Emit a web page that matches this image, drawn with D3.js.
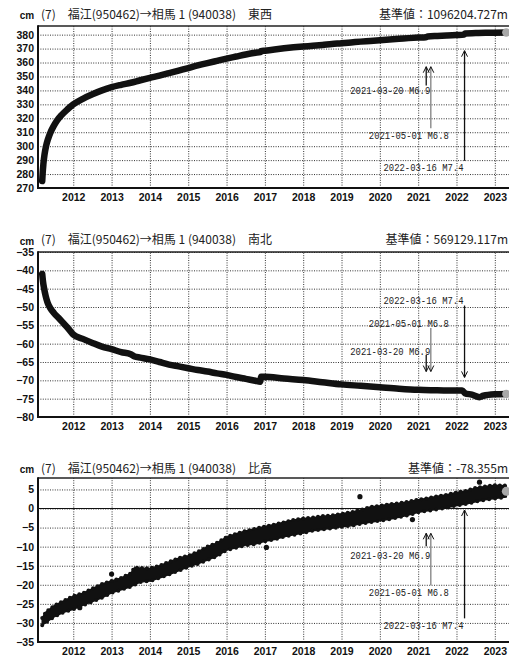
<!DOCTYPE html>
<html><head><meta charset="utf-8">
<script src="https://cdn.jsdelivr.net/npm/d3@7/dist/d3.min.js"></script>
<style>
html,body{margin:0;padding:0;background:#fff;}
svg{display:block;}
</style></head>
<body>
<script>
// ---------- data (decimal years / cm) ----------
const yearTicks = [2012,2013,2014,2015,2016,2017,2018,2019,2020,2021,2022,2023];

const ewYears = [2011.19,2011.20,2011.22,2011.25,2011.29,2011.34,2011.40,2011.48,2011.58,2011.70,2011.85,2012.00,2012.25,2012.50,2012.75,2013.00,2013.25,2013.50,2013.75,2014.00,2014.25,2014.50,2014.75,2015.00,2015.25,2015.50,2015.75,2016.00,2016.25,2016.50,2016.75,2016.88,2016.90,2017.00,2017.25,2017.50,2017.75,2018.00,2018.25,2018.50,2018.75,2019.00,2019.25,2019.50,2019.75,2020.00,2020.25,2020.50,2020.75,2021.00,2021.20,2021.25,2021.50,2021.75,2022.00,2022.20,2022.22,2022.50,2022.75,2023.00,2023.30];
const ewValues = [275,280,287,294,300,305,309.5,314,318.5,322.5,326.5,330,334,337.2,340,342.3,344,345.5,347.3,349,350.6,352.4,354.2,356,357.9,359.6,361.2,362.8,364.3,365.8,367,367.5,368.1,368.5,369.4,370.2,370.9,371.5,372.0,372.6,373.3,373.8,374.4,375.0,375.5,376.0,376.5,377.0,377.5,377.9,378.2,378.7,379.1,379.4,379.7,380.0,380.9,381.1,381.3,381.4,381.5];
const ewTicks = [270,280,290,300,310,320,330,340,350,360,370,380];

const nsYears = [2011.19,2011.21,2011.24,2011.28,2011.33,2011.40,2011.50,2011.62,2011.75,2011.88,2012.00,2012.25,2012.50,2012.75,2013.00,2013.25,2013.50,2013.60,2013.75,2014.00,2014.25,2014.50,2014.75,2015.00,2015.25,2015.50,2015.75,2016.00,2016.25,2016.50,2016.75,2016.88,2016.90,2017.00,2017.50,2018.00,2018.50,2019.00,2019.50,2020.00,2020.50,2021.00,2021.50,2022.00,2022.15,2022.22,2022.40,2022.60,2022.70,2023.00,2023.30];
const nsValues = [-41,-43,-45,-47,-48.8,-50.3,-51.7,-53,-54.5,-56,-57.5,-58.7,-59.8,-60.8,-61.5,-62.3,-62.9,-63.5,-63.8,-64.3,-65.0,-65.7,-66.2,-66.7,-67.2,-67.6,-68.1,-68.5,-69.1,-69.6,-70.1,-70.4,-69.0,-69.0,-69.5,-69.9,-70.5,-71.1,-71.5,-71.9,-72.3,-72.6,-72.7,-72.8,-72.8,-73.5,-73.9,-74.6,-74.2,-73.8,-73.7];
const nsTicks = [-80,-75,-70,-65,-60,-55,-50,-45,-40,-35];

const udYears = [2011.19,2011.30,2011.50,2011.75,2012.00,2012.25,2012.50,2012.75,2013.00,2013.25,2013.50,2013.60,2013.75,2014.00,2014.25,2014.50,2014.75,2015.00,2015.25,2015.50,2015.75,2016.00,2016.25,2016.50,2016.75,2017.00,2017.25,2017.50,2017.75,2018.00,2018.25,2018.50,2018.75,2019.00,2019.25,2019.50,2019.75,2020.00,2020.25,2020.50,2020.75,2021.00,2021.25,2021.50,2021.75,2022.00,2022.25,2022.50,2022.75,2023.00,2023.30];
const udLow  = [-30.6,-29.8,-28.4,-27.2,-26.4,-25.4,-24.4,-23.4,-22.1,-21.3,-20.5,-20.0,-19.3,-19.0,-18.2,-17.3,-16.3,-15.3,-14.5,-13.5,-12.5,-10.9,-10.3,-9.6,-9.3,-8.6,-8.1,-7.4,-6.9,-6.4,-5.8,-5.5,-5.2,-4.8,-4.5,-4.0,-3.6,-3.2,-2.8,-2.3,-1.7,-1.0,-0.6,-0.2,0.2,0.8,1.2,1.8,2.3,2.6,3.0];
const udHigh = [-28.7,-27.0,-25.5,-24.2,-23.0,-22.2,-21.0,-19.8,-19.0,-18.2,-17.0,-15.5,-15.6,-15.7,-15.0,-14.0,-13.0,-12.4,-11.4,-10.0,-9.0,-7.5,-6.6,-5.9,-5.3,-4.7,-4.2,-3.6,-3.0,-2.6,-2.4,-2.0,-1.8,-1.4,-1.0,-0.4,0.4,0.7,1.1,1.4,1.8,2.3,2.7,3.2,3.6,4.2,4.6,5.4,5.8,6.1,6.0];
const udOutYears  = [2012.17,2013.00,2017.04,2019.48,2020.85,2022.60];
const udOutValues = [-26.0,-17.2,-10.2,3.1,-2.9,6.9];
const udTicks = [-35,-30,-25,-20,-15,-10,-5,0,5];

const quakeDates  = [2021.21,2021.33,2022.21];
const quakeLabels = ["2021-03-20 M6.9","2021-05-01 M6.8","2022-03-16 M7.4"];
// arrow tip / tail / label values per panel (cm)
const ewArrowTip  = [357,357,368.5], ewArrowTail = [343.5,312.8,289.5], ewLabelAt = [340.5,308.3,285.3];
const nsArrowTip  = [-67.6,-67.6,-69.2], nsArrowTail = [-63.1,-55.7,-49.6], nsLabelAt = [-61.9,-54.2,-48.1];
const udArrowTip  = [-6.5,-6.5,-0.4], udArrowTail = [-9.9,-20.1,-28.8], udLabelAt = [-12.2,-21.8,-30.5];

const titles = ["東西","南北","比高"];
const baseValues = ["1096204.727m","569129.117m","-78.355m"];

// ---------- drawing ----------
const W = 509, H = 658;
const L = 38, R = 509;
const svg = d3.select("body").append("svg").attr("width", W).attr("height", H);
const x = d3.scaleLinear().domain([2011.08, 2023.37]).range([L, R]);
const tickFont = "'Liberation Sans Narrow','Arial Narrow','Liberation Sans',sans-serif";
const jpFont = "'Noto Sans CJK JP','Noto Sans',sans-serif";
const labelDx = [4, 18, -1];
const tickFmt = d => (d < 0 ? "\u2212" + Math.abs(d) : String(d));

function panel(p, i) {
  const y = d3.scaleLinear().domain(p.domain).range([p.bottom, p.top]);
  const g = svg.append("g");
  const clipId = "clip" + i;
  svg.append("clipPath").attr("id", clipId).append("rect")
    .attr("x", L).attr("y", p.top).attr("width", R - L).attr("height", p.bottom - p.top);

  // horizontal grid + y labels
  const ya = g.append("g").attr("transform", `translate(${L},0)`)
    .call(d3.axisLeft(y).tickValues(p.ticks).tickSize(-(R - L)).tickPadding(4).tickFormat(tickFmt));
  ya.select(".domain").remove();
  ya.selectAll(".tick line").attr("stroke", "#333").attr("stroke-dasharray", "1,1.4");
  ya.selectAll(".tick text").attr("font-family", tickFont).attr("font-weight", "bold")
    .attr("font-size", 10.5).attr("fill", "#111");

  // vertical grid + x labels
  const xa = g.append("g").attr("transform", `translate(0,${p.bottom})`)
    .call(d3.axisBottom(x).tickValues(yearTicks).tickSize(-(p.bottom - p.top)).tickPadding(6).tickFormat(d3.format("d")));
  xa.select(".domain").remove();
  xa.selectAll(".tick line").attr("stroke", "#333").attr("stroke-dasharray", "1,1.4");
  xa.selectAll(".tick text").attr("font-family", tickFont).attr("font-weight", "bold")
    .attr("font-size", 10.5).attr("fill", "#111");

  if (p.zeroLine) {
    g.append("line").attr("x1", L).attr("x2", R).attr("y1", y(0)).attr("y2", y(0))
      .attr("stroke", "#111").attr("stroke-width", 1);
  }

  // frame
  g.append("line").attr("x1", L).attr("x2", R).attr("y1", p.top).attr("y2", p.top)
    .attr("stroke", "#222").attr("stroke-width", 1.6);
  g.append("line").attr("x1", L).attr("x2", L).attr("y1", p.top - 0.8).attr("y2", p.bottom + 1)
    .attr("stroke", "#111").attr("stroke-width", 2);
  g.append("line").attr("x1", L - 1).attr("x2", R).attr("y1", p.bottom).attr("y2", p.bottom)
    .attr("stroke", "#111").attr("stroke-width", 2);

  // data
  const dg = g.append("g").attr("clip-path", `url(#${clipId})`);
  if (p.values) {
    const pts = p.years.map((yr, k) => [yr, p.values[k]]);
    dg.append("path").datum(pts)
      .attr("d", d3.line().x(d => x(d[0])).y(d => y(d[1])).curve(d3.curveMonotoneX))
      .attr("fill", "none").attr("stroke", "#111").attr("stroke-width", 6.5)
      .attr("stroke-linecap", "round").attr("stroke-linejoin", "round");
    const last = pts[pts.length - 1];
    dg.append("circle").attr("cx", x(last[0])).attr("cy", y(last[1])).attr("r", 4.2).attr("fill", "#a8a8a8");
  } else {
    const band = p.years.map((yr, k) => [yr, p.low[k], p.high[k]]);
    const area = d3.area().x(d => x(d[0])).y0(d => y(d[1])).y1(d => y(d[2])).curve(d3.curveLinear);
    dg.append("path").datum(band).attr("d", area)
      .attr("fill", "#111").attr("stroke", "#111").attr("stroke-width", 1.5).attr("stroke-linejoin", "round");
    // dotted edge (daily points look)
    dg.append("path").datum(band).attr("d", d3.line().x(d => x(d[0])).y(d => y(d[2])))
      .attr("fill", "none").attr("stroke", "#111").attr("stroke-width", 4)
      .attr("stroke-dasharray", "0 5").attr("stroke-linecap", "round");
    dg.append("path").datum(band).attr("d", d3.line().x(d => x(d[0])).y(d => y(d[1])))
      .attr("fill", "none").attr("stroke", "#111").attr("stroke-width", 4)
      .attr("stroke-dasharray", "0 6").attr("stroke-linecap", "round");
    dg.selectAll("circle.out").data(p.outYears).join("circle").attr("class", "out")
      .attr("cx", d => x(d)).attr("cy", (d, k) => y(p.outValues[k])).attr("r", 2.6).attr("fill", "#111");
    const lb = band[band.length - 1];
    dg.append("circle").attr("cx", x(lb[0])).attr("cy", y((lb[1] + lb[2]) / 2)).attr("r", 4.5).attr("fill", "#a8a8a8");
  }

  // earthquake arrows
  quakeDates.forEach((qd, k) => {
    const ax = x(qd);
    const col = k === 1 ? "#808080" : "#111";
    const tipY = y(p.tip[k]), tailY = y(p.tail[k]);
    const dir = tipY < tailY ? 1 : -1; // 1: pointing up
    g.append("line").attr("x1", ax).attr("x2", ax).attr("y1", tailY).attr("y2", tipY)
      .attr("stroke", col).attr("stroke-width", 1.3);
    g.append("path").attr("d", `M${ax - 3},${tipY + dir * 6}L${ax},${tipY}L${ax + 3},${tipY + dir * 6}`)
      .attr("fill", "none").attr("stroke", "#111").attr("stroke-width", 1);
    g.append("text").attr("x", ax + labelDx[k]).attr("y", y(p.label[k])).attr("dy", "0.36em")
      .attr("text-anchor", "end").attr("font-family", "'Liberation Mono','DejaVu Sans Mono',monospace")
      .attr("font-size", 11.5).attr("fill", "#222")
      .attr("textLength", 80).attr("lengthAdjust", "spacingAndGlyphs")
      .text(quakeLabels[k]);
  });

  // titles
  g.append("text").attr("x", 27).attr("y", p.cmY).attr("dy", "0.36em").attr("text-anchor", "middle")
    .attr("font-family", tickFont).attr("font-weight", "bold").attr("font-size", 10).attr("fill", "#111").text("cm");
  g.append("text").attr("x", 41).attr("y", p.titleY).attr("dy", "0.36em")
    .attr("font-family", jpFont).attr("font-size", 12).attr("fill", "#222")
    .text("(7)\u3000福江(950462)→相馬 1 (940038)\u3000" + titles[i]);
  g.append("text").attr("x", 508).attr("y", p.titleY).attr("dy", "0.36em").attr("text-anchor", "end")
    .attr("font-family", jpFont).attr("font-size", 12).attr("fill", "#222")
    .text("基準値：" + baseValues[i]);
}

panel({top: 26, bottom: 188, domain: [270, 386.2], ticks: ewTicks, years: ewYears, values: ewValues,
       tip: ewArrowTip, tail: ewArrowTail, label: ewLabelAt, titleY: 15, cmY: 15}, 0);
panel({top: 252, bottom: 417, domain: [-80, -35], ticks: nsTicks, years: nsYears, values: nsValues,
       tip: nsArrowTip, tail: nsArrowTail, label: nsLabelAt, titleY: 240, cmY: 241}, 1);
panel({top: 478, bottom: 642, domain: [-35, 8], ticks: udTicks, years: udYears, low: udLow, high: udHigh,
       outYears: udOutYears, outValues: udOutValues, zeroLine: true,
       tip: udArrowTip, tail: udArrowTail, label: udLabelAt, titleY: 469, cmY: 469}, 2);
</script>
</body></html>
